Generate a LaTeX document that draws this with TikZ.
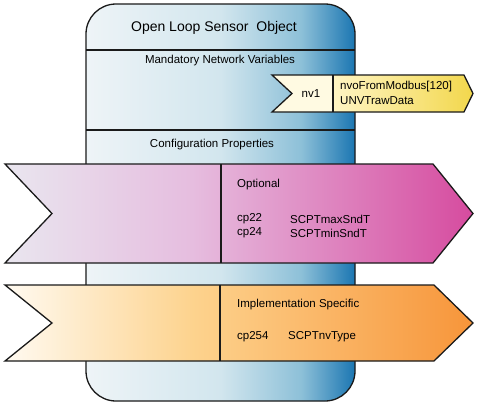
\documentclass[tikz,border=0pt]{standalone}
\usepackage{fontspec}
\setmainfont{Liberation Sans}
\definecolor{bodyA}{HTML}{EEF4F7}
\definecolor{bodyB}{HTML}{D2E6EE}
\definecolor{bodyC}{HTML}{8DC0D8}
\definecolor{bodyD}{HTML}{1B76B2}
\definecolor{pinkA}{HTML}{E9E6EF}
\definecolor{pinkB}{HTML}{E6BDDF}
\definecolor{pinkC}{HTML}{D64B9F}
\definecolor{orA}{HTML}{FFFAF1}
\definecolor{orB}{HTML}{FDD38E}
\definecolor{orC}{HTML}{F7953A}
\definecolor{nvA}{HTML}{FFFAE2}
\definecolor{nvB}{HTML}{FFF5C4}
\definecolor{nvC}{HTML}{F2D74C}
\definecolor{edge}{HTML}{1A1A1A}
\pgfdeclarehorizontalshading{bodyshade}{100bp}{color(0bp)=(bodyA); color(25bp)=(bodyA); color(50bp)=(bodyB); color(65bp)=(bodyC); color(75bp)=(bodyD); color(100bp)=(bodyD)}
\pgfdeclarehorizontalshading{pinkshade}{100bp}{color(0bp)=(pinkA); color(25bp)=(pinkA); color(45bp)=(pinkB); color(75bp)=(pinkC); color(100bp)=(pinkC)}
\pgfdeclarehorizontalshading{orshade}{100bp}{color(0bp)=(orA); color(25bp)=(orA); color(45bp)=(orB); color(75bp)=(orC); color(100bp)=(orC)}
\pgfdeclarehorizontalshading{nvshade}{100bp}{color(0bp)=(nvB); color(25bp)=(nvB); color(75bp)=(nvC); color(100bp)=(nvC)}
\tikzset{
  outline/.style={draw=edge, line width=1.3pt, line join=miter},
  ttl/.style={font=\fontsize{14}{16}\selectfont, inner sep=0pt},
  lbl/.style={font=\fontsize{11.5}{13}\selectfont, inner sep=0pt},
  lftlbl/.style={lbl, anchor=west},
}
\begin{document}
\begin{tikzpicture}[x=1pt,y=-1pt]
\useasboundingbox (0,0) rectangle (480,408);
\fill[white] (0,0) rectangle (480,408);
% main object body
\shade[shading=bodyshade, rounded corners=30pt] (86,4) rectangle (355,401);
\draw[outline, rounded corners=30pt] (86,4) rectangle (355,401);
\draw[outline] (86,50) -- (355,50);
\draw[outline] (86,130) -- (355,130);
\node[ttl] (title) at (214,28) {Open Loop Sensor\ \ Object};
\node[lbl] (mnv) at (220,61) {Mandatory Network Variables};
\node[lbl] (cfg) at (212,145) {Configuration Properties};
% nv1 arrow
\fill[nvA] (272,75) -- (333,75) -- (333,112) -- (272,112) -- (292,93.5) -- cycle;
\shade[shading=nvshade] (333,75) -- (464,75) -- (473,93.5) -- (464,112) -- (333,112) -- cycle;
\draw[outline] (272,75) -- (464,75) -- (473,93.5) -- (464,112) -- (272,112) -- (292,93.5) -- cycle;
\draw[outline] (333,75) -- (333,112);
\node[lbl] (nv1) at (311,94) {nv1};
\node[lftlbl] (nvo) at (340,87) {nvoFromModbus[120]};
\node[lftlbl] (unv) at (340,101) {UNVTrawData};
% optional arrow
\shade[shading=pinkshade] (5,164) -- (433,164) -- (473,213.5) -- (433,263) -- (5,263) -- (52,213.5) -- cycle;
\draw[outline] (5,164) -- (433,164) -- (473,213.5) -- (433,263) -- (5,263) -- (52,213.5) -- cycle;
\draw[outline] (221,164) -- (221,263);
\node[lftlbl] (opt) at (237,185) {Optional};
\node[lftlbl] (cp22) at (237,219) {cp22};
\node[lftlbl] (maxs) at (290,219) {SCPTmaxSndT};
\node[lftlbl] (cp24) at (237,233) {cp24};
\node[lftlbl] (mins) at (290,233) {SCPTminSndT};
% implementation specific arrow
\shade[shading=orshade] (5,285) -- (434,285) -- (473,323) -- (434,361) -- (5,361) -- (52,323) -- cycle;
\draw[outline] (5,285) -- (434,285) -- (473,323) -- (434,361) -- (5,361) -- (52,323) -- cycle;
\draw[outline] (220,285) -- (220,361);
\node[lftlbl] (impl) at (237,305) {Implementation Specific};
\node[lftlbl] (cp254) at (237,337) {cp254};
\node[lftlbl] (nvt) at (288,337) {SCPTnvType};
\end{tikzpicture}
\end{document}
